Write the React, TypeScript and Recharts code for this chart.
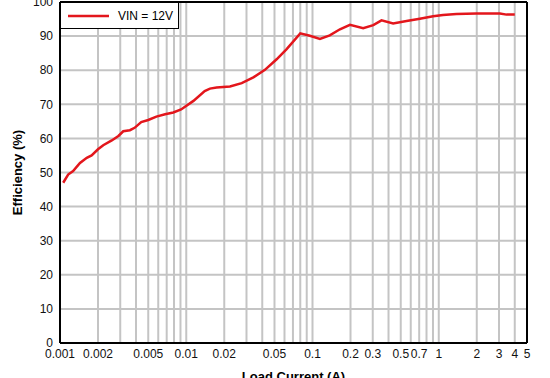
import React from "react";
import {
  CartesianGrid,
  Legend,
  Line,
  LineChart,
  ReferenceLine,
  XAxis,
  YAxis
} from "recharts";

// load current (A) and efficiency (%)
const current = [
  0.00106, 0.00116, 0.00127, 0.00144, 0.00163, 0.00178, 0.002, 0.0022, 0.00257,
  0.0029, 0.00317, 0.00358, 0.0039, 0.0044, 0.005, 0.0058, 0.0068, 0.0079,
  0.0091, 0.0114, 0.014, 0.0154, 0.0174, 0.0222, 0.0275, 0.034, 0.042, 0.052,
  0.0624, 0.08, 0.0953, 0.1145, 0.137, 0.165, 0.198, 0.252, 0.303, 0.352,
  0.435, 0.556, 0.708, 0.903, 1.08, 1.38, 1.99, 3.05, 3.44, 4.0
];
const efficiency = [
  47.0, 49.4, 50.4, 52.8, 54.3, 55.0, 56.8, 58.0, 59.4, 60.7, 62.1, 62.4, 63.1,
  64.8, 65.4, 66.4, 67.1, 67.6, 68.5, 71.0, 73.9, 74.6, 74.9, 75.2, 76.2, 77.9,
  80.1, 83.2, 86.2, 90.8, 90.1, 89.2, 90.2, 92.0, 93.3, 92.3, 93.2, 94.6, 93.7,
  94.4, 95.1, 95.8, 96.2, 96.5, 96.6, 96.6, 96.3, 96.3
];

// vertical grid lines (every 1..9 per decade) and the ones that carry a label
const gridTicks = [
  0.001, 0.002, 0.003, 0.004, 0.005, 0.006, 0.007, 0.008, 0.009,
  0.01, 0.02, 0.03, 0.04, 0.05, 0.06, 0.07, 0.08, 0.09,
  0.1, 0.2, 0.3, 0.4, 0.5, 0.6, 0.7, 0.8, 0.9,
  1, 2, 3, 4, 5
];
const labelTicks = [
  "0.001", "0.002", "0.005", "0.01", "0.02", "0.05", "0.1", "0.2", "0.3",
  "0.5", "0.7", "1", "2", "3", "4", "5"
];
const yTicks = [0, 10, 20, 30, 40, 50, 60, 70, 80, 90, 100];

const seriesName = "VIN = 12V";

const data = current.map((c, i) => ({ current: c, eff: efficiency[i] }));

const FONT = "'Liberation Sans', Arial, sans-serif";
const RED = "#e3161c";

const renderLegend = () => (
  <div
    style={{
      width: 119,
      height: 27,
      border: "1.5px solid #000",
      background: "#fff",
      boxSizing: "border-box",
      display: "flex",
      alignItems: "center",
      fontFamily: FONT,
      fontSize: 12,
      color: "#000"
    }}
  >
    <svg width={50} height={6} style={{ marginLeft: 7 }}>
      <line x1={0} y1={3} x2={41} y2={3} stroke={RED} strokeWidth={2.5} />
    </svg>
    <span>{seriesName}</span>
  </div>
);

export default function App() {
  return (
    <div style={{ position: "absolute", left: 0, top: 0, background: "#fff" }}>
      <LineChart
        width={550}
        height={378}
        data={data}
        margin={{ top: 2, right: 23, left: 0, bottom: 0 }}
        style={{ fontFamily: FONT }}
      >
        <CartesianGrid stroke="#c4c4c4" strokeWidth={2} />
        <XAxis
          dataKey="current"
          type="number"
          scale="log"
          domain={[0.001, 5]}
          allowDataOverflow
          ticks={gridTicks}
          interval={0}
          tickFormatter={(v: number) =>
            labelTicks.includes(String(v)) ? String(v) : ""
          }
          tickLine={false}
          tickSize={4}
          tickMargin={2}
          height={35}
          axisLine={{ stroke: "#000", strokeWidth: 2 }}
          tick={{ fill: "#111", fontSize: 12 }}
          label={{
            value: "Load Current (A)",
            position: "insideBottom",
            offset: -3,
            style: { fontWeight: "bold", fontSize: 13, fill: "#000" }
          }}
        />
        <YAxis
          type="number"
          domain={[0, 100]}
          ticks={yTicks}
          interval={0}
          width={60}
          tickLine={false}
          tickSize={5}
          tickMargin={2}
          axisLine={{ stroke: "#000", strokeWidth: 2 }}
          tick={{ fill: "#111", fontSize: 12 }}
          label={{
            value: "Efficiency (%)",
            angle: -90,
            position: "insideLeft",
            offset: 17,
            style: {
              textAnchor: "middle",
              fontWeight: "bold",
              fontSize: 13,
              fill: "#000"
            }
          }}
        />
        <ReferenceLine y={100} stroke="#000" strokeWidth={2} />
        <ReferenceLine x={5} stroke="#000" strokeWidth={2} />
        <Legend
          layout="horizontal"
          verticalAlign="middle"
          content={renderLegend}
          wrapperStyle={{ position: "absolute", top: 2, left: 60, width: "auto" }}
        />
        <Line
          type="linear"
          dataKey="eff"
          name={seriesName}
          stroke={RED}
          strokeWidth={2.5}
          dot={false}
          isAnimationActive={false}
        />
      </LineChart>
    </div>
  );
}
